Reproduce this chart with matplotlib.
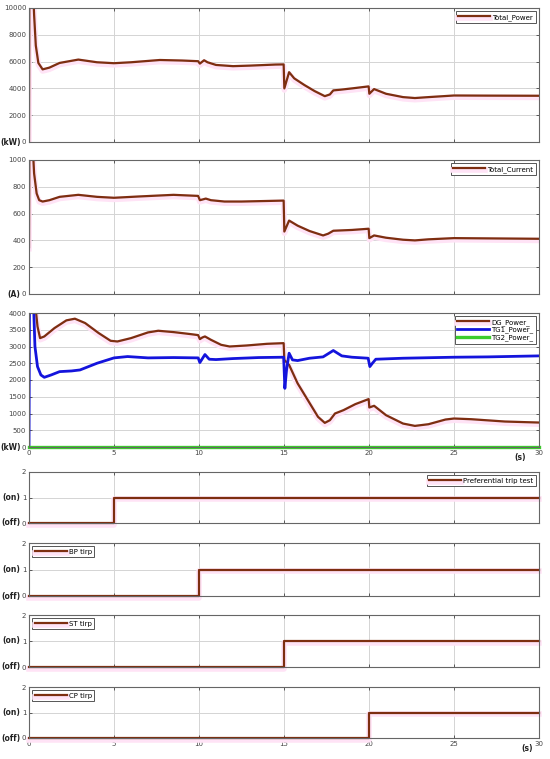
import matplotlib
matplotlib.use("Agg")
import matplotlib.pyplot as plt
import matplotlib.patheffects as pe
from matplotlib import transforms

# ---------------------------------------------------------------
# data (time in s)
# ---------------------------------------------------------------
power_t = [0, 0.02, 0.22, 0.3, 0.4, 0.55, 0.8, 1.2, 1.8, 2.9, 4.0, 5.0, 6.0, 7.7, 9.0,
           9.95, 10.05, 10.15, 10.3, 10.5, 11.0, 12.0, 13.0, 14.5, 14.98, 15.02, 15.3,
           15.6, 16.2, 16.8, 17.4, 17.7, 17.9, 18.3, 19.0, 19.98, 20.02, 20.3, 21.0,
           22.0, 22.7, 23.5, 25.0, 27.0, 30.0]
power_kw = [0, 12000, 12000, 9500, 7200, 5900, 5420, 5550, 5900, 6150, 5950, 5880, 5950,
            6120, 6080, 6030, 5850, 5950, 6100, 5950, 5750, 5660, 5700, 5780, 5790, 4000,
            5210, 4750, 4250, 3800, 3420, 3550, 3850, 3900, 4000, 4150, 3600, 3950, 3600,
            3350, 3280, 3350, 3470, 3460, 3450]

current_t = [0, 0.02, 0.22, 0.3, 0.45, 0.6, 0.8, 1.2, 1.8, 2.9, 4.0, 5.0, 6.5, 8.5,
             9.95, 10.05, 10.2, 10.4, 10.7, 11.5, 12.5, 14.98, 15.02, 15.3, 15.8, 16.5,
             17.3, 17.6, 17.9, 19.0, 19.98, 20.02, 20.3, 21.0, 22.0, 22.7, 23.5, 25.0,
             27.0, 30.0]
current_a = [350, 1100, 1100, 900, 750, 700, 690, 700, 725, 740, 725, 718, 728, 740,
             732, 700, 705, 712, 700, 690, 690, 697, 466, 548, 510, 470, 437, 450, 472,
             478, 487, 417, 437, 420, 405, 400, 408, 417, 415, 412]

dg_t = [0, 0.3, 0.5, 0.65, 0.9, 1.5, 2.2, 2.7, 3.3, 4.1, 4.8, 5.2, 6.0, 7.0, 7.6, 8.5,
        9.5, 9.95, 10.05, 10.2, 10.35, 10.7, 11.3, 11.8, 12.8, 14.0, 14.98, 15.02, 15.3,
        15.8, 16.4, 17.0, 17.4, 17.7, 18.0, 18.5, 19.2, 19.98, 20.02, 20.3, 21.0, 22.0,
        22.7, 23.5, 24.5, 25.0, 26.0, 28.0, 30.0]
dg_kw = [4600, 4600, 3600, 3250, 3300, 3550, 3780, 3830, 3700, 3400, 3170, 3150, 3250,
         3420, 3470, 3430, 3370, 3340, 3220, 3270, 3300, 3200, 3050, 3000, 3030, 3080,
         3100, 2600, 2450, 1900, 1400, 900, 720, 800, 1000, 1100, 1280, 1430, 1180, 1230,
         950, 700, 630, 680, 820, 850, 830, 760, 730]

tg1_t = [0, 0.03, 0.25, 0.35, 0.5, 0.7, 0.9, 1.3, 1.8, 2.5, 3.0, 4.0, 5.0, 5.8, 7.0, 8.5,
         9.95, 10.05, 10.15, 10.35, 10.6, 11.0, 12.0, 13.5, 14.98, 15.05, 15.15, 15.3,
         15.5, 15.8, 16.5, 17.3, 17.9, 18.4, 19.0, 19.95, 20.05, 20.2, 20.4, 22.0, 25.0,
         27.0, 30.0]
tg1_kw = [0, 4500, 4500, 3000, 2400, 2150, 2080, 2150, 2250, 2270, 2300, 2500, 2660,
          2700, 2660, 2670, 2660, 2520, 2600, 2760, 2620, 2610, 2640, 2670, 2680, 1750,
          2300, 2800, 2600, 2580, 2650, 2690, 2880, 2720, 2680, 2650, 2400, 2500, 2620,
          2650, 2680, 2690, 2720]

tg2_t = [0, 30]
tg2_kw = [0, 0]

trip_names = ["Preferential trip test", "BP tirp", "ST tirp", "CP tirp"]
trip_times = [5, 10, 15, 20]
trip_legend_loc = ["upper right", "upper left", "upper left", "upper left"]

BROWN = "#7d2e10"
BLUE = "#1414dc"
GREEN = "#3ccc2c"
halo = [pe.Stroke(linewidth=4, foreground="#ffe3f6", offset=(0, -1.2)), pe.Normal()]

fig = plt.figure(figsize=(5.5, 7.59), dpi=100)

left, width = 29 / 550, 510 / 550
H = 759
boxes = [(8, 142), (160, 294), (313, 447), (472, 523), (543, 596), (615, 667), (687, 738)]
axes = [fig.add_axes([left, 1 - b / H, width, (b - t) / H]) for t, b in boxes]


def style(ax, ylim, yticks, xlabels):
    ax.set_xlim(0, 30)
    ax.set_ylim(*ylim)
    ax.set_yticks(yticks)
    ax.set_xticks([0, 5, 10, 15, 20, 25, 30])
    ax.grid(True, color="#d4d4d4", linewidth=0.7)
    ax.set_axisbelow(True)
    ax.tick_params(direction="in", length=2.5, width=0.6, labelsize=5, colors="#444444",
                   top=True, right=True, pad=2)
    for s in ax.spines.values():
        s.set_color("#666666")
        s.set_linewidth(0.8)
    if not xlabels:
        ax.set_xticklabels([])


def unit(ax, txt, y):
    tr = transforms.blended_transform_factory(fig.transFigure, ax.transData)
    ax.text(20.5 / 550, y, txt, transform=tr, ha="right", va="center",
            fontsize=5.5, fontweight="bold", color="#222222")


def leg(ax, loc):
    lg = ax.legend(loc=loc, fontsize=5, fancybox=False, edgecolor="#555555",
                   handlelength=4.6, borderpad=0.35, labelspacing=0.15,
                   handletextpad=0.3, borderaxespad=0.5, framealpha=1)
    lg.get_frame().set_linewidth(0.7)


# Total power
ax = axes[0]
ax.plot(power_t, power_kw, color=BROWN, lw=1.6, label="Total_Power", path_effects=halo)
style(ax, (0, 10000), range(0, 10001, 2000), False)
unit(ax, "(kW)", 0)
leg(ax, "upper right")

# Total current
ax = axes[1]
ax.plot(current_t, current_a, color=BROWN, lw=1.6, label="Total_Current", path_effects=halo)
style(ax, (0, 1000), range(0, 1001, 200), False)
unit(ax, "(A)", 0)
leg(ax, "upper right")

# generator powers
ax = axes[2]
ax.plot(dg_t, dg_kw, color=BROWN, lw=1.6, label="DG_Power_", path_effects=halo)
ax.plot(tg1_t, tg1_kw, color=BLUE, lw=2.0, label="TG1_Power_")
ax.plot(tg2_t, tg2_kw, color=GREEN, lw=2.4, label="TG2_Power_", clip_on=False)
style(ax, (0, 4000), range(0, 4001, 500), True)
unit(ax, "(kW)", 0)
leg(ax, "upper right")
ax.text(520 / 550, 1 - 457 / H, "(s)", transform=fig.transFigure, ha="center",
        va="center", fontsize=5.5, fontweight="bold", color="#222222")

# trip signals
for i, (name, ts, loc) in enumerate(zip(trip_names, trip_times, trip_legend_loc)):
    ax = axes[3 + i]
    ax.plot([0, ts, 30], [0, 1, 1], drawstyle="steps-post", color=BROWN, lw=1.6,
            label=name, path_effects=halo, clip_on=False)
    style(ax, (0, 2), [0, 1, 2], i == 3)
    unit(ax, "(on)", 1)
    unit(ax, "(off)", 0)
    leg(ax, loc)

ax = axes[6]
ax.text(527 / 550, 1 - 748 / H, "(s)", transform=fig.transFigure, ha="center",
        va="center", fontsize=5.5, fontweight="bold", color="#222222")

fig.savefig("out.png", dpi=100, facecolor="white")
